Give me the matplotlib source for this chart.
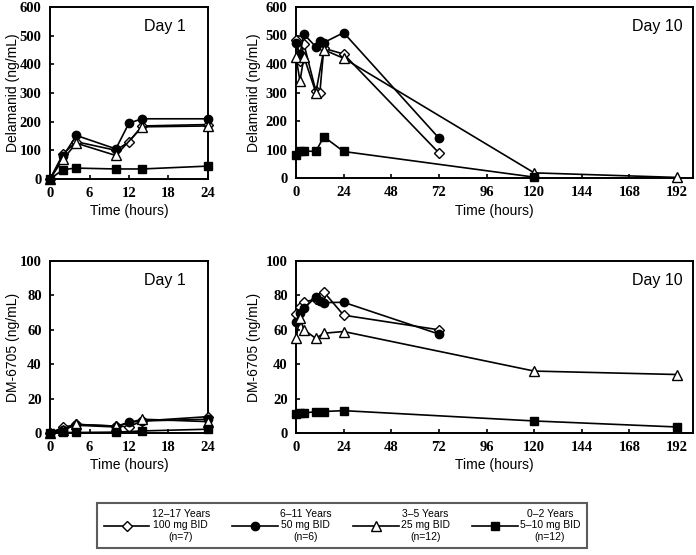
import numpy as np
import matplotlib
matplotlib.use('Agg')
import matplotlib.pyplot as plt
from matplotlib import font_manager

# Day 1 sampling times (hours)
t_day1 = [0, 2, 4, 10, 12, 14, 24]
t_day1_tri = [0, 2, 4, 10, 14, 24]
t_day1_sq = [0, 2, 4, 10, 14, 24]

# Day 1 delamanid (ng/mL)
dlm1_12_17 = [0, 88, 130, 100, 130, 185, 190]
dlm1_6_11 = [0, 80, 152, 105, 195, 210, 210]
dlm1_3_5 = [0, 70, 125, 82, 182, 185]
dlm1_0_2 = [0, 33, 38, 35, 35, 45]

# Day 1 DM-6705 (ng/mL)
dm1_12_17 = [0, 3.3, 5, 4, 3.7, 7, 9.5]
dm1_6_11 = [0, 2, 4.5, 3.5, 6.2, 7, 8]
dm1_3_5 = [0, 2, 5, 4, 8, 6.6]
dm1_0_2 = [0, 0.3, 0.3, 0.5, 1.2, 2.2]

# Day 10 sampling times (hours)
t10_12_17 = [0, 2, 4, 10, 12, 14, 24, 72]
t10_6_11 = [0, 2, 4, 10, 12, 14, 24, 72]
t10_3_5 = [0, 2, 4, 10, 14, 24, 120, 192]
t10_0_2 = [0, 2, 4, 10, 14, 24, 120, 192]
t10_0_2_dlm = [0, 2, 4, 10, 14, 24, 120]

# Day 10 delamanid (ng/mL)
dlm10_12_17 = [483, 410, 470, 305, 298, 455, 435, 88]
dlm10_6_11 = [475, 435, 505, 460, 480, 475, 510, 140]
dlm10_3_5 = [425, 340, 425, 300, 450, 420, 18, 2]
dlm10_0_2 = [82, 95, 95, 93, 145, 93, 3]

# Day 10 DM-6705 (ng/mL)
dm10_12_17 = [69, 73, 76, 78, 79, 82, 68.5, 60]
dm10_6_11 = [64.5, 70, 72.5, 79, 76.5, 75.8, 76, 57.5]
dm10_3_5 = [55, 67, 60, 55, 58, 59, 36, 34]
dm10_0_2 = [11, 11.5, 11.5, 12.5, 12.5, 13, 7, 3.5]

labels = ['12\u201317 Years\n100 mg BID\n(n=7)',
          '6\u201311 Years\n50 mg BID\n(n=6)',
          '3\u20135 Years\n25 mg BID\n(n=12)',
          '0\u20132 Years\n5\u201310 mg BID\n(n=12)']

styles = [dict(marker='D', mfc='white', ms=5),
          dict(marker='o', mfc='black', ms=6),
          dict(marker='^', mfc='white', ms=7),
          dict(marker='s', mfc='black', ms=5.5)]

W, H = 696, 555
fig = plt.figure(figsize=(W / 100, H / 100), dpi=100)

tick_fp = font_manager.FontProperties(family='Liberation Serif', weight='bold', size=10.5)
label_font = dict(family='Liberation Sans', size=10)


def make_ax(x0, x1, ytop, ybot):
 ax = fig.add_axes([x0 / W, 1 - ybot / H, (x1 - x0) / W, (ybot - ytop) / H])
 for s in ax.spines.values():
  s.set_linewidth(1.4)
 ax.tick_params(direction='in', length=3, width=1.2, pad=6)
 return ax


def draw(ax, times, series, xlim, xticks, ylim, yticks, ylabel, day, ylab_x):
 for t, y, st in zip(times, series, styles):
  ax.plot(t, y, color='black', lw=1.2, mec='black', mew=1.0,
          clip_on=False, zorder=3, **st)
 ax.set_xlim(xlim)
 ax.set_ylim(ylim)
 ax.set_xticks(xticks)
 ax.set_yticks(yticks)
 for lab in ax.get_xticklabels() + ax.get_yticklabels():
  lab.set_fontproperties(tick_fp)
 ax.set_xlabel('Time (hours)', labelpad=3, **label_font)
 ax.set_ylabel(ylabel, **label_font)
 ax.yaxis.set_label_coords(ylab_x, 0.5)
 ax.text(0.91 if day == 'Day 10' else 0.73, 0.885, day, transform=ax.transAxes,
         ha='center', va='center', family='Liberation Sans', fontsize=11.5)


ax1 = make_ax(50, 208, 7, 179)
draw(ax1, [t_day1, t_day1, t_day1_tri, t_day1_sq],
     [dlm1_12_17, dlm1_6_11, dlm1_3_5, dlm1_0_2],
     (0, 24), [0, 6, 12, 18, 24], (0, 600), range(0, 601, 100),
     'Delamanid (ng/mL)', 'Day 1', -0.19)

ax2 = make_ax(296, 693, 7, 178)
draw(ax2, [t10_12_17, t10_6_11, t10_3_5, t10_0_2_dlm],
     [dlm10_12_17, dlm10_6_11, dlm10_3_5, dlm10_0_2],
     (0, 200), range(0, 193, 24), (0, 600), range(0, 601, 100),
     'Delamanid (ng/mL)', 'Day 10', -0.088)

ax3 = make_ax(50, 208, 261, 433)
draw(ax3, [t_day1, t_day1, t_day1_tri, t_day1_sq],
     [dm1_12_17, dm1_6_11, dm1_3_5, dm1_0_2],
     (0, 24), [0, 6, 12, 18, 24], (0, 100), range(0, 101, 20),
     'DM-6705 (ng/mL)', 'Day 1', -0.19)

ax4 = make_ax(296, 693, 261, 433)
draw(ax4, [t10_12_17, t10_6_11, t10_3_5, t10_0_2],
     [dm10_12_17, dm10_6_11, dm10_3_5, dm10_0_2],
     (0, 200), range(0, 193, 24), (0, 100), range(0, 101, 20),
     'DM-6705 (ng/mL)', 'Day 10', -0.088)

# legend along the bottom
names = [f.name for f in font_manager.fontManager.ttflist]
leg_family = 'Liberation Sans Narrow' if 'Liberation Sans Narrow' in names else 'Liberation Sans'
handles = [plt.Line2D([], [], color='black', lw=1.2, mec='black', mew=1.0, **st)
           for st in styles]
leg = fig.legend(handles, labels, loc='center',
                 bbox_to_anchor=((100 + 584) / 2 / W, 1 - 525.5 / H),
                 ncol=4, frameon=True, fancybox=False,
                 handlelength=4.4, handletextpad=0.2, columnspacing=2.1,
                 borderpad=0.6, borderaxespad=0,
                 prop=dict(family=leg_family, size=7.5))
leg.get_frame().set_edgecolor('#333333')
leg.get_frame().set_linewidth(1.5)
for txt in leg.get_texts():
 txt.set_multialignment('center')

plt.savefig('out.png', dpi=100)
